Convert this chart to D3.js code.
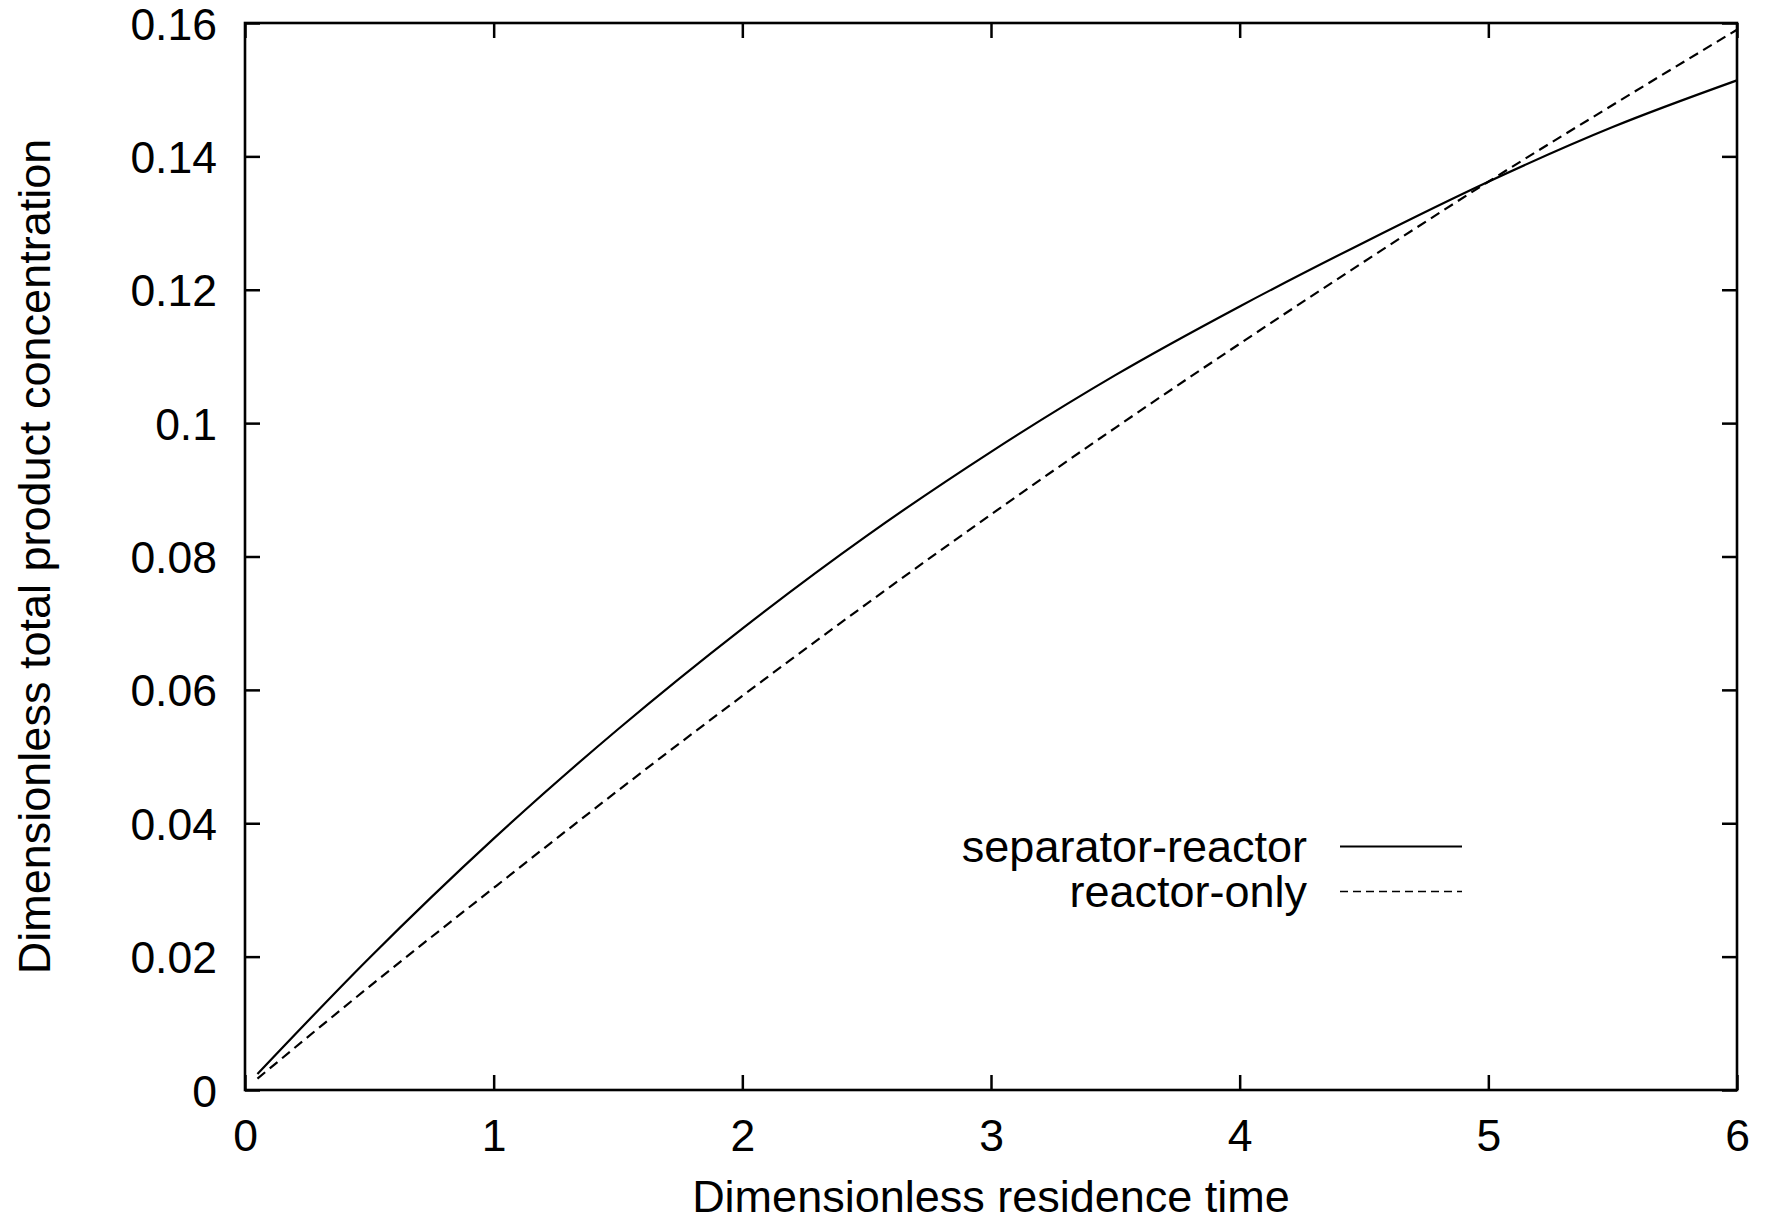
<!DOCTYPE html>
<html lang="en">
<head>
    <meta charset="UTF-8">
    <title>Product concentration vs residence time</title>
    <style>
        body { margin: 0; background: #fff; }
        #chart { font-family: "Liberation Sans", Arial, Helvetica, sans-serif; }
        .tick text { font-size: 44.5px; fill: #000; }
        .tick line { stroke: #000; stroke-width: 2.5px; }
        .curve { fill: none; stroke: #000; stroke-width: 2.2px; }
        .label { font-size: 45px; fill: #000; }
    </style>
    <script src="https://d3js.org/d3.v7.min.js"></script>
</head>
<body>
    <div id="chart"></div>
    <script>
        // Dimensionless residence time (x) sample points
        const tau = [0.05, 0.5, 1, 1.5, 2, 2.5, 3, 3.5, 4, 4.5, 5, 5.5, 6];

        // Dimensionless total product concentration
        const separatorReactor = [0.0024, 0.0198, 0.0377, 0.0541, 0.0692, 0.0831, 0.0957, 0.1072, 0.1175, 0.1271, 0.1362, 0.1444, 0.1514];
        const reactorOnly = [0.0017, 0.0155, 0.0303, 0.0449, 0.0591, 0.0729, 0.0863, 0.0993, 0.1119, 0.1242, 0.1362, 0.1477, 0.1590];

        const seriesNames = ["separator-reactor", "reactor-only"];

        const xTicks = [0, 1, 2, 3, 4, 5, 6];
        const xTickLabels = ["0", "1", "2", "3", "4", "5", "6"];
        const yTicks = [0, 0.02, 0.04, 0.06, 0.08, 0.1, 0.12, 0.14, 0.16];
        const yTickLabels = ["0", "0.02", "0.04", "0.06", "0.08", "0.1", "0.12", "0.14", "0.16"];

        const xTitle = "Dimensionless residence time";
        const yTitle = "Dimensionless total product concentration";

        // layout
        const W = 1773, H = 1223;
        const margin = { top: 23, right: 36, bottom: 133, left: 245 };
        const width = W - margin.left - margin.right;
        const height = H - margin.top - margin.bottom;

        const svg = d3.select("#chart")
            .append("svg")
            .attr("width", W)
            .attr("height", H);

        const g = svg.append("g")
            .attr("transform", `translate(${margin.left},${margin.top})`);

        const x = d3.scaleLinear().domain([0, 6]).range([0, width]);
        const y = d3.scaleLinear().domain([0, 0.16]).range([height, 0]);

        // axes with inward ticks (gnuplot style, mirrored on all sides)
        const axisB = g.append("g")
            .attr("transform", `translate(0,${height})`)
            .call(d3.axisBottom(x).tickValues(xTicks)
                .tickFormat((d, i) => xTickLabels[i])
                .tickSize(-15).tickSizeOuter(0).tickPadding(29));

        const axisL = g.append("g")
            .call(d3.axisLeft(y).tickValues(yTicks)
                .tickFormat((d, i) => yTickLabels[i])
                .tickSize(-15).tickSizeOuter(0).tickPadding(28));
        axisL.selectAll(".tick text").attr("dy", "0.36em");

        const axisT = g.append("g")
            .call(d3.axisTop(x).tickValues(xTicks).tickFormat("")
                .tickSize(-15).tickSizeOuter(0));

        const axisR = g.append("g")
            .attr("transform", `translate(${width},0)`)
            .call(d3.axisRight(y).tickValues(yTicks).tickFormat("")
                .tickSize(-15).tickSizeOuter(0));

        [axisB, axisL, axisT, axisR].forEach(a => {
            a.select(".domain").remove();
            a.attr("font-family", null).attr("font-size", null);
        });

        // frame
        g.append("rect")
            .attr("x", 0).attr("y", 0)
            .attr("width", width).attr("height", height)
            .attr("fill", "none")
            .attr("stroke", "#000")
            .attr("stroke-width", 2.6);

        // curves
        const line = d3.line()
            .x(d => x(d[0]))
            .y(d => y(d[1]))
            .curve(d3.curveMonotoneX);

        const series = [
            { name: seriesNames[0], values: separatorReactor, dash: null, legendDash: null },
            { name: seriesNames[1], values: reactorOnly, dash: "10,6", legendDash: "8,5" }
        ];

        g.selectAll(".curve")
            .data(series)
            .enter().append("path")
            .attr("class", "curve")
            .attr("d", s => line(tau.map((t, i) => [t, s.values[i]])))
            .attr("stroke-dasharray", s => s.dash);

        // legend
        const legend = g.selectAll(".legend")
            .data(series)
            .enter().append("g")
            .attr("class", "legend")
            .attr("transform", (d, i) => `translate(0, ${823.5 + i * 45})`);

        legend.append("text")
            .attr("class", "label")
            .attr("x", 1062)
            .attr("dy", "0.35em")
            .attr("text-anchor", "end")
            .text(d => d.name);

        legend.append("line")
            .attr("x1", 1095)
            .attr("x2", 1217)
            .attr("stroke", "#000")
            .attr("stroke-width", (d, i) => i === 0 ? 2 : 1.6)
            .attr("stroke-dasharray", d => d.legendDash);

        // axis titles
        svg.append("text")
            .attr("class", "label")
            .attr("x", margin.left + width / 2)
            .attr("y", 1212)
            .attr("text-anchor", "middle")
            .text(xTitle);

        svg.append("text")
            .attr("class", "label")
            .attr("transform", `translate(50, ${margin.top + height / 2}) rotate(-90)`)
            .attr("text-anchor", "middle")
            .text(yTitle);
    </script>
</body>
</html>
